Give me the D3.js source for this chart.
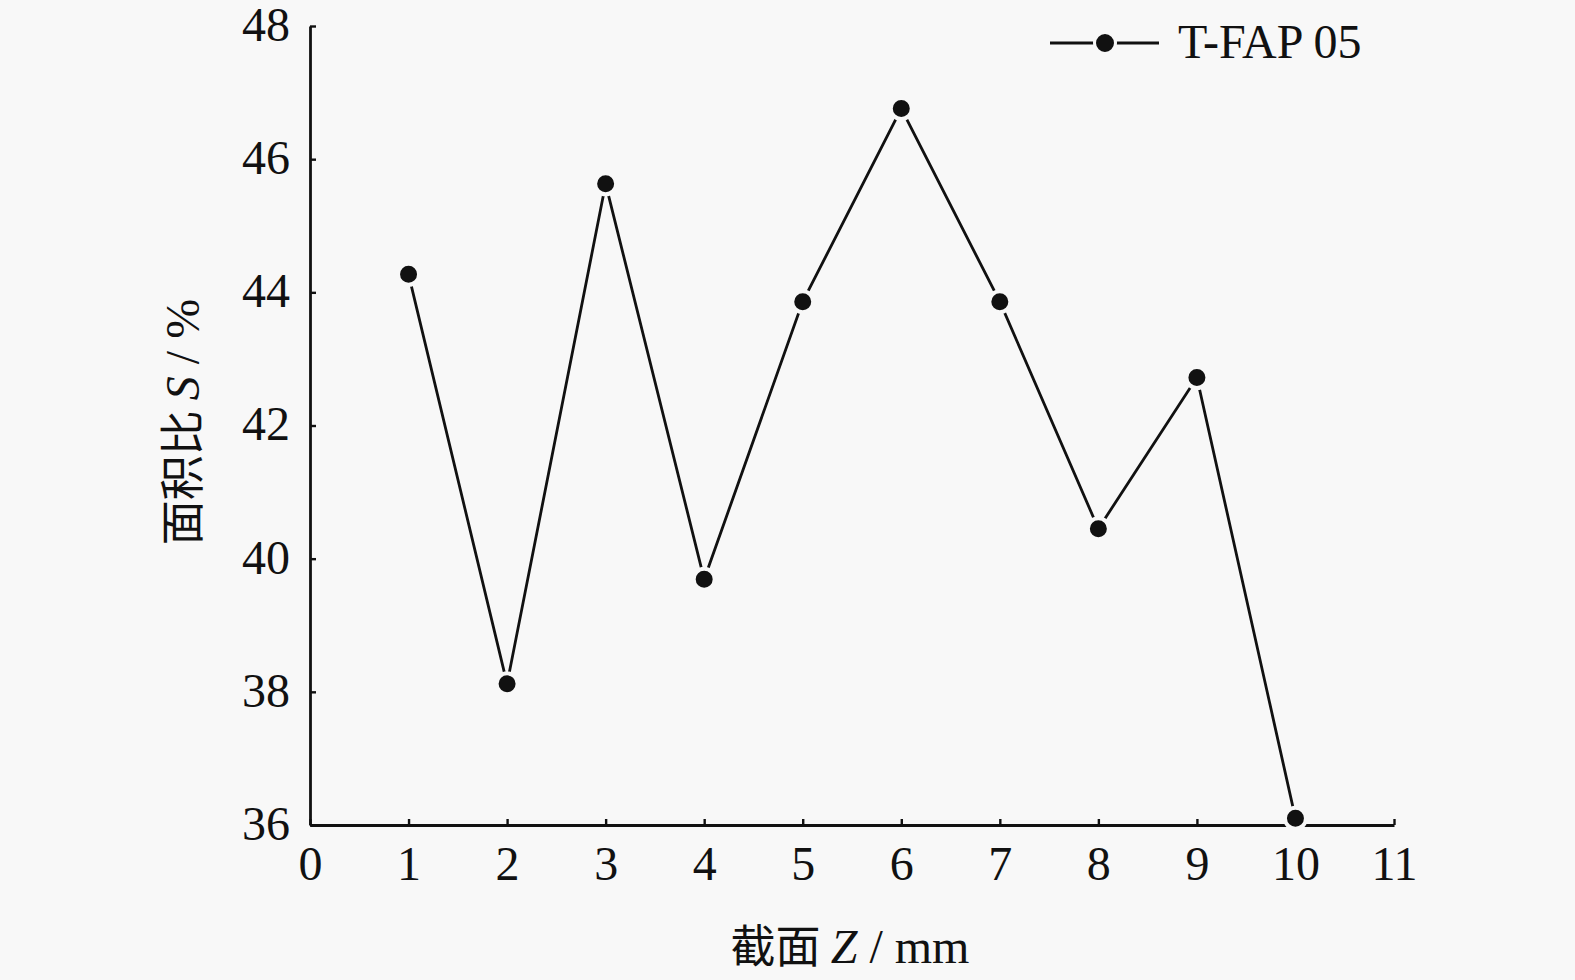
<!DOCTYPE html>
<html>
<head>
<meta charset="utf-8">
<script src="https://cdn.jsdelivr.net/npm/d3@7"></script>
<style>
  html, body { margin: 0; padding: 0; background: #f8f8f8; }
  svg { display: block; }
  text { font-family: "Liberation Serif", "Noto Sans CJK SC", serif; fill: #111; }
</style>
</head>
<body>
<svg id="chart" width="1575" height="980"></svg>
<script>
// ---- data ----
const sections = [1, 2, 3, 4, 5, 6, 7, 8, 9, 10];
const areaRatio = [44.27, 38.12, 45.63, 39.69, 43.86, 46.76, 43.86, 40.45, 42.72, 36.10];
const seriesName = "T-FAP 05";
const xTicks = [0, 1, 2, 3, 4, 5, 6, 7, 8, 9, 10, 11];
const yTicks = [36, 38, 40, 42, 44, 46, 48];

// ---- layout ----
const bg = "#f8f8f8";
const mLeft = 310, mRight = 1394, mTop = 26, mBottom = 825;
const svg = d3.select("#chart");
svg.append("rect").attr("width", 1575).attr("height", 980).attr("fill", bg);

const x = d3.scaleLinear().domain([0, 11]).range([mLeft, mRight]);
const y = d3.scaleLinear().domain([36, 48]).range([mBottom, mTop]);

const fs = 48;
const cjk = 45;

// axes
const xAxis = d3.axisBottom(x).tickValues(xTicks).tickSize(-6).tickSizeOuter(0).tickPadding(21);
const gx = svg.append("g").attr("transform", `translate(0,${mBottom})`).call(xAxis);
gx.select(".domain").attr("stroke", "#111").attr("stroke-width", 2.8);
gx.selectAll(".tick line").attr("stroke", "#111").attr("stroke-width", 2.4);
gx.selectAll(".tick text").attr("font-size", fs).attr("fill", "#111")
  .attr("font-family", "Liberation Serif, serif");

const yAxis = d3.axisLeft(y).tickValues(yTicks).tickSize(-6).tickSizeOuter(0).tickPadding(20);
const gy = svg.append("g").attr("transform", `translate(${mLeft},0)`).call(yAxis);
gy.select(".domain").attr("stroke", "#111").attr("stroke-width", 2.8);
gy.selectAll(".tick line").attr("stroke", "#111").attr("stroke-width", 2.4);
gy.selectAll(".tick text").attr("font-size", fs).attr("fill", "#111")
  .attr("font-family", "Liberation Serif, serif").attr("dy", "0.30em");

// titles
const xt = svg.append("text").attr("x", (mLeft + mRight) / 2 - 2).attr("y", 963)
  .attr("text-anchor", "middle").attr("font-size", fs);
xt.append("tspan").attr("font-family", "Noto Sans CJK SC, sans-serif").attr("font-size", cjk).text("截面 ");
xt.append("tspan").attr("font-style", "italic").text("Z");
xt.append("tspan").text(" / mm");

const yt = svg.append("text").attr("transform", `translate(199,422) rotate(-90)`)
  .attr("text-anchor", "middle").attr("font-size", fs);
yt.append("tspan").attr("font-family", "Noto Sans CJK SC, sans-serif").attr("font-size", cjk).text("面积比 ");
yt.append("tspan").attr("font-style", "italic").text("S");
yt.append("tspan").text(" / %");

// data line
const data = sections.map((s, i) => ({ s, v: areaRatio[i] }));
const line = d3.line().x(d => x(d.s)).y(d => y(d.v));
svg.append("path").datum(data).attr("d", line)
  .attr("fill", "none").attr("stroke", "#111").attr("stroke-width", 2.8);

svg.append("g").selectAll("circle").data(data).join("circle")
  .attr("cx", d => x(d.s)).attr("cy", d => y(d.v)).attr("r", 10.5)
  .attr("fill", "#111").attr("stroke", bg).attr("stroke-width", 4);

// legend
const lg = svg.append("g");
lg.append("line").attr("x1", 1050).attr("x2", 1159).attr("y1", 43).attr("y2", 43)
  .attr("stroke", "#111").attr("stroke-width", 2.8);
lg.append("circle").attr("cx", 1105).attr("cy", 43).attr("r", 10.5)
  .attr("fill", "#111").attr("stroke", bg).attr("stroke-width", 3);
lg.append("text").attr("x", 1178).attr("y", 58).attr("font-size", fs).text(seriesName);
</script>
</body>
</html>
